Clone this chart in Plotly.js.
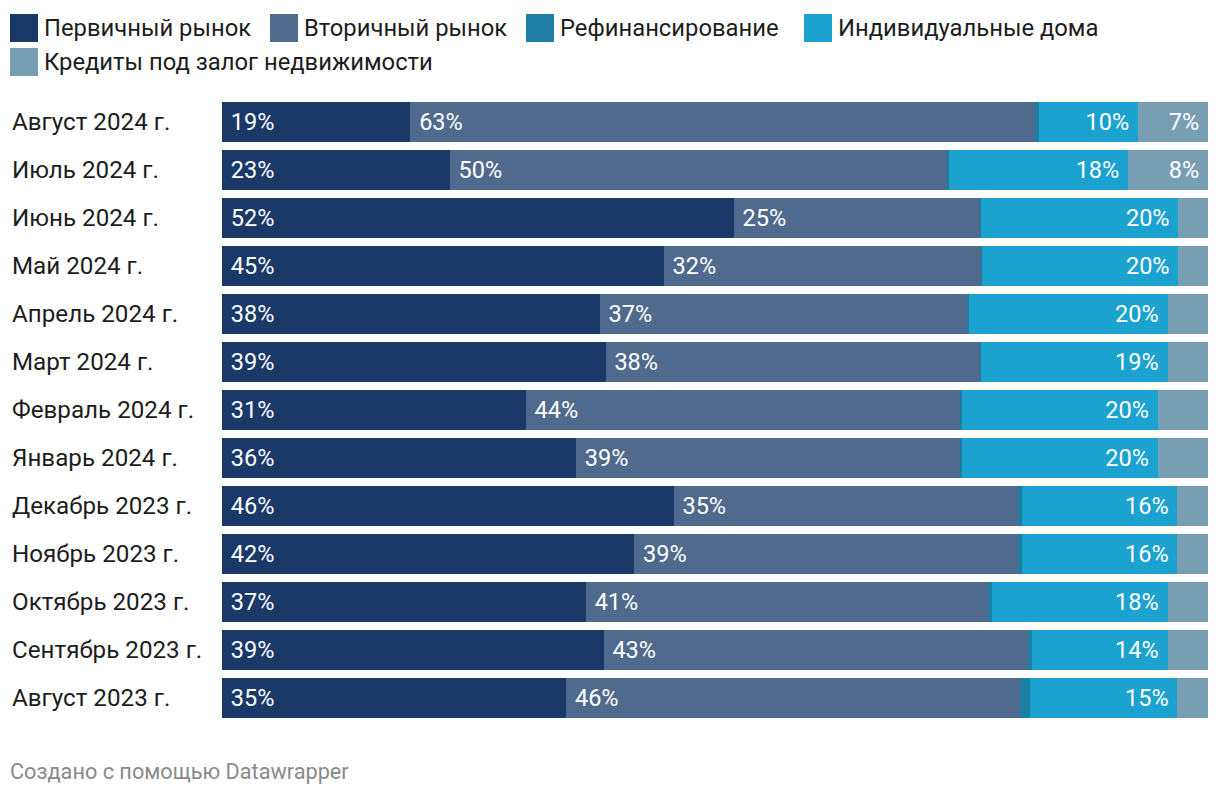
<!DOCTYPE html>
<html>
<head>
<meta charset="utf-8">
<script src="https://cdn.plot.ly/plotly-3.0.1.min.js"></script>
<style>
html,body{margin:0;padding:0;background:#fff;}
#chart{width:1220px;height:796px;}
</style>
</head>
<body>
<div id="chart"></div>
<script>
// ---- data ----
const categories = ["Август 2024 г.","Июль 2024 г.","Июнь 2024 г.","Май 2024 г.","Апрель 2024 г.","Март 2024 г.","Февраль 2024 г.","Январь 2024 г.","Декабрь 2023 г.","Ноябрь 2023 г.","Октябрь 2023 г.","Сентябрь 2023 г.","Август 2023 г."];
const seriesNames = ["Первичный рынок","Вторичный рынок","Рефинансирование","Индивидуальные дома","Кредиты под залог недвижимости"];
const primary   = [19.1,23.1,51.9,44.8,38.3,38.9,30.8,35.9,45.8,41.8,36.9,38.7,34.9];
const secondary = [63.4,50.4,25.0,32.2,37.3,38.0,44.0,38.9,34.9,38.9,40.8,43.0,46.0];
const refinance = [0.4,0.2,0.1,0.1,0.2,0.1,0.2,0.2,0.4,0.4,0.4,0.4,1.0];
const houses    = [10.0,18.2,20.0,19.9,20.1,18.9,19.9,19.9,15.8,15.8,17.8,13.8,15.0];
const loans     = [7.1,8.1,3.0,3.0,4.1,4.1,5.1,5.1,3.1,3.1,4.1,4.1,3.1];
const seriesValues = [primary, secondary, refinance, houses, loans];
const colors = ["#1a3968","#506a8d","#1e7ea3","#1ba2cf","#789eb3"];
const footer = "Создано с помощью Datawrapper";

// ---- layout helpers ----
const W = 1220, H = 796;
const M = {l:222, r:12, t:98, b:74};
const PW = W - M.l - M.r, PH = H - M.t - M.b;
const px = v => (v - M.l) / PW;
const py = v => 1 - (v - M.t) / PH;
const NB = "\u00a0";
const FONT = "Roboto, 'Liberation Sans', sans-serif";

const anchors = ["start","start","start","end","end"];
const traces = seriesValues.map((vals, i) => ({
  type: "bar",
  orientation: "h",
  name: seriesNames[i],
  y: categories,
  x: vals,
  marker: {color: colors[i], line: {width: 0}},
  text: vals.map(v => v >= 6.5 ? (anchors[i] === "start" ? NB + Math.round(v) + "%" : Math.round(v) + "%" + NB) : ""),
  textposition: "inside",
  insidetextanchor: anchors[i],
  textfont: {family: FONT, size: 23.5, color: "#ffffff"},
  constraintext: "none",
  hoverinfo: "name+x",
  showlegend: false
}));

const annotations = [];
const shapes = [];
categories.forEach(c => annotations.push({
  xref: "paper", yref: "y", x: px(10), y: c, xanchor: "left", yanchor: "middle",
  text: c, showarrow: false, font: {family: FONT, size: 24.2, color: "#1d1d1d"}
}));

const legendPos = [[10,28],[270,28],[526,28],[804,28],[10,62]];
seriesNames.forEach((n, i) => {
  const [lx, ly] = legendPos[i];
  shapes.push({type: "rect", xref: "paper", yref: "paper",
    x0: px(lx), x1: px(lx + 28), y0: py(ly - 14), y1: py(ly + 14),
    fillcolor: colors[i], line: {width: 0}});
  annotations.push({xref: "paper", yref: "paper", x: px(lx + 32), y: py(ly),
    xanchor: "left", yanchor: "middle", text: n, showarrow: false,
    font: {family: FONT, size: 23.8, color: "#1d1d1d"}});
});
annotations.push({xref: "paper", yref: "paper", x: px(8), y: py(771),
  xanchor: "left", yanchor: "middle", text: footer, showarrow: false,
  font: {family: FONT, size: 21.7, color: "#8a8a8a"}});

const layout = {
  width: W, height: H,
  margin: M,
  barmode: "stack",
  bargap: 8/48,
  paper_bgcolor: "#ffffff",
  plot_bgcolor: "#ffffff",
  xaxis: {range: [0, 100], visible: false, fixedrange: true},
  yaxis: {autorange: "reversed", showticklabels: false, showgrid: false, zeroline: false, ticks: "", fixedrange: true},
  shapes: shapes,
  annotations: annotations,
  showlegend: false,
  font: {family: FONT}
};

Plotly.newPlot("chart", traces, layout, {displayModeBar: false, staticPlot: true});
</script>
</body>
</html>
